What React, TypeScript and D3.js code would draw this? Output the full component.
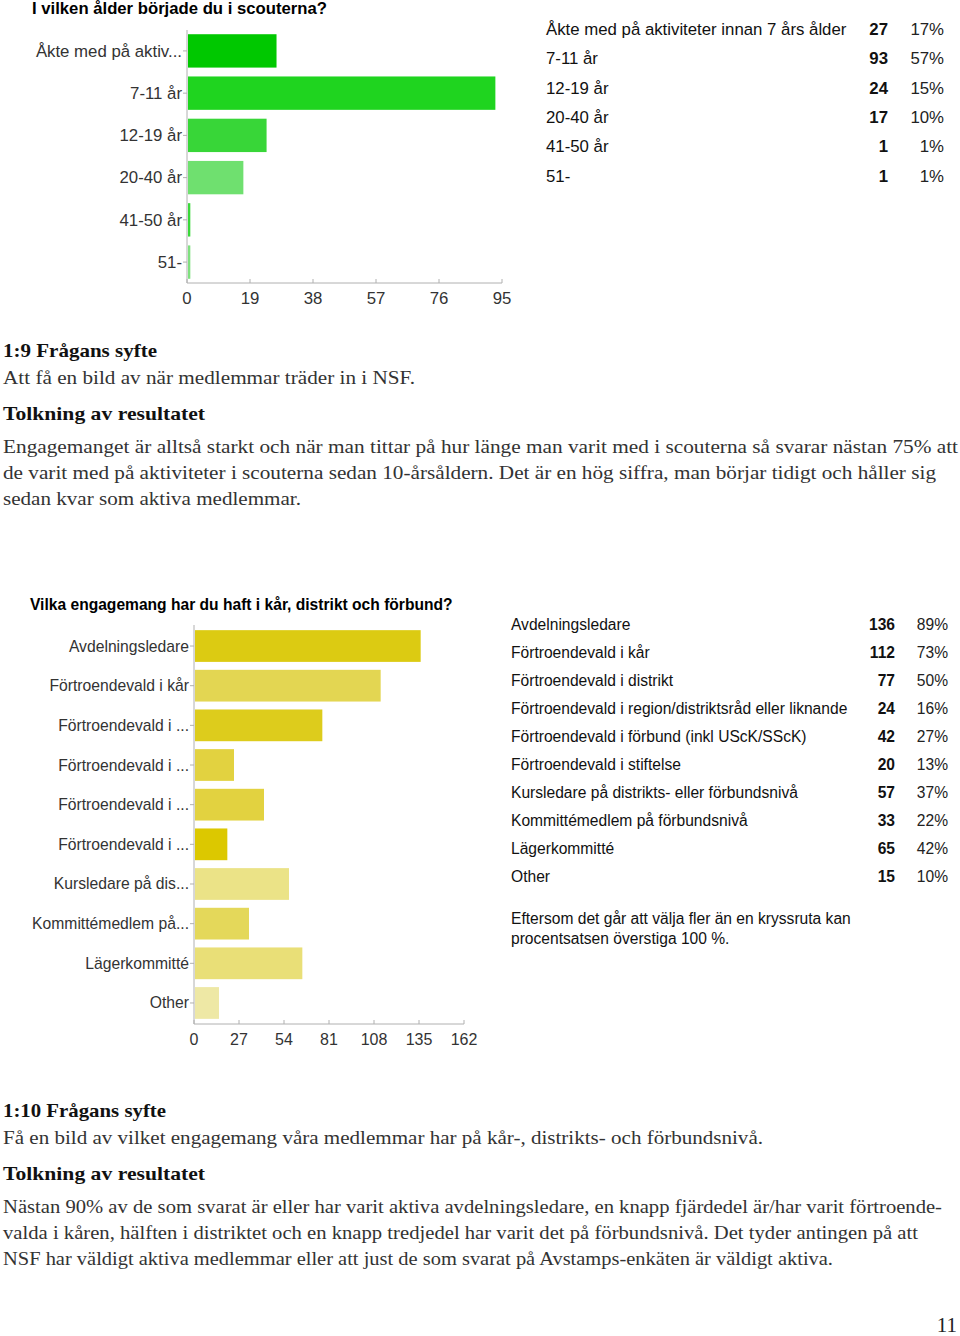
import React from "react";
import * as d3 from "d3";

// ---------- Data: chart 1 ----------
const ageTitle = "I vilken ålder började du i scouterna?";
const ageCategories = [
  "Åkte med på aktiviteter innan 7 års ålder",
  "7-11 år",
  "12-19 år",
  "20-40 år",
  "41-50 år",
  "51-",
];
const ageAxisLabels = ["Åkte med på aktiv...", "7-11 år", "12-19 år", "20-40 år", "41-50 år", "51-"];
const ageCounts = [27, 93, 24, 17, 1, 1];
const agePercents = ["17%", "57%", "15%", "10%", "1%", "1%"];
const ageTicks = [0, 19, 38, 57, 76, 95];
const ageColors = ["#00c800", "#1fd41f", "#38d638", "#6fe06f", "#3ad83a", "#7fe07f"];

// ---------- Data: chart 2 ----------
const engTitle = "Vilka engagemang har du haft i kår, distrikt och förbund?";
const engCategories = [
  "Avdelningsledare",
  "Förtroendevald i kår",
  "Förtroendevald i distrikt",
  "Förtroendevald i region/distriktsråd eller liknande",
  "Förtroendevald i förbund (inkl UScK/SScK)",
  "Förtroendevald i stiftelse",
  "Kursledare på distrikts- eller förbundsnivå",
  "Kommittémedlem på förbundsnivå",
  "Lägerkommitté",
  "Other",
];
const engAxisLabels = [
  "Avdelningsledare",
  "Förtroendevald i kår",
  "Förtroendevald i ...",
  "Förtroendevald i ...",
  "Förtroendevald i ...",
  "Förtroendevald i ...",
  "Kursledare på dis...",
  "Kommittémedlem på...",
  "Lägerkommitté",
  "Other",
];
const engCounts = [136, 112, 77, 24, 42, 20, 57, 33, 65, 15];
const engPercents = ["89%", "73%", "50%", "16%", "27%", "13%", "37%", "22%", "42%", "10%"];
const engTicks = [0, 27, 54, 81, 108, 135, 162];
const engColors = [
  "#dccb12", "#e3d652", "#ddcc1c", "#e2d240", "#e2d240",
  "#dcc800", "#ebe387", "#e4d85a", "#e9df77", "#eee8a5",
];
const engNote = [
  "Eftersom det går att välja fler än en kryssruta kan",
  "procentsatsen överstiga 100 %.",
];

// ---------- Text blocks ----------
const sec1Heading = "1:9 Frågans syfte";
const sec1Purpose = "Att få en bild av när medlemmar träder in i NSF.";
const sec1Heading2 = "Tolkning av resultatet";
const sec1Para = [
  "Engagemanget är alltså starkt och när man tittar på hur länge man varit med i scouterna så svarar nästan 75% att",
  "de varit med på aktiviteter i scouterna sedan 10-årsåldern. Det är en hög siffra, man börjar tidigt och håller sig",
  "sedan kvar som aktiva medlemmar.",
];
const sec2Heading = "1:10 Frågans syfte";
const sec2Purpose = "Få en bild av vilket engagemang våra medlemmar har på kår-, distrikts- och förbundsnivå.";
const sec2Heading2 = "Tolkning av resultatet";
const sec2Para = [
  "Nästan 90% av de som svarat är eller har varit aktiva avdelningsledare, en knapp fjärdedel är/har varit förtroende-",
  "valda i kåren, hälften i distriktet och en knapp tredjedel har varit det på förbundsnivå. Det tyder antingen på att",
  "NSF har väldigt aktiva medlemmar eller att just de som svarat på Avstamps-enkäten är väldigt aktiva.",
];
const pageNumber = "11";

// Layout: rendered widths of the serif text lines (the page uses a wider Garamond face)
const sec1Widths = { heading: 154, purpose: 412, heading2: 202, para: [955, 933, 298] };
const sec2Widths = { heading: 163, purpose: 760, heading2: 202, para: [939, 915, 830] };

const SANS = "'Liberation Sans', Arial, Helvetica, sans-serif";
const SERIF = "'Liberation Serif', 'Times New Roman', serif";

type BarChartProps = {
  labels: string[];
  values: number[];
  colors: string[];
  ticks: number[];
  x0: number;
  x1: number;
  y0: number;
  y1: number;
  paddingInner: number;
  paddingOuter: number;
  labelSize: number;
  tickSize: number;
};

function BarChart(p: BarChartProps) {
  const x = d3.scaleLinear().domain([0, p.ticks[p.ticks.length - 1]]).range([p.x0, p.x1]);
  const y = d3
    .scaleBand<number>()
    .domain(p.labels.map((_, i) => i))
    .range([p.y0, p.y1])
    .paddingInner(p.paddingInner)
    .paddingOuter(p.paddingOuter);
  return (
    <g>
      {p.values.map((v, i) => (
        <rect
          key={i}
          x={x(0) + 1}
          y={y(i)!}
          width={Math.max(0, x(v) - x(0) - 1)}
          height={y.bandwidth()}
          fill={p.colors[i]}
        />
      ))}
      <line x1={x(0)} x2={x(0)} y1={p.y0} y2={p.y1} stroke="#b0b0b0" strokeWidth={1} />
      {p.labels.map((l, i) => {
        const cy = y(i)! + y.bandwidth() / 2;
        return (
          <g key={i}>
            <line x1={x(0) - 4} x2={x(0)} y1={cy} y2={cy} stroke="#b0b0b0" />
            <text
              x={x(0) - 5}
              y={cy}
              dy="0.35em"
              textAnchor="end"
              fontFamily={SANS}
              fontSize={p.labelSize}
              fill="#333"
            >
              {l}
            </text>
          </g>
        );
      })}
      <line x1={x(0)} x2={x(p.ticks[p.ticks.length - 1])} y1={p.y1} y2={p.y1} stroke="#b0b0b0" />
      {p.ticks.map((t) => (
        <g key={t}>
          <line x1={x(t)} x2={x(t)} y1={p.y1 - 4} y2={p.y1} stroke="#b0b0b0" />
          <text
            x={x(t)}
            y={p.y1 + 15}
            dy="0.35em"
            textAnchor="middle"
            fontFamily={SANS}
            fontSize={p.tickSize}
            fill="#333"
          >
            {t}
          </text>
        </g>
      ))}
    </g>
  );
}

type TableProps = {
  names: string[];
  counts: number[];
  percents: string[];
  xLabel: number;
  xCount: number;
  xPct: number;
  yFirst: number;
  step: number;
  size: number;
};

function Table(p: TableProps) {
  return (
    <g fontFamily={SANS} fontSize={p.size} fill="#111">
      {p.names.map((n, i) => {
        const cy = p.yFirst + i * p.step;
        return (
          <g key={i}>
            <text x={p.xLabel} y={cy} dy="0.35em">
              {n}
            </text>
            <text x={p.xCount} y={cy} dy="0.35em" textAnchor="end" fontWeight="bold">
              {p.counts[i]}
            </text>
            <text x={p.xPct} y={cy} dy="0.35em" textAnchor="end" fill="#222">
              {p.percents[i]}
            </text>
          </g>
        );
      })}
    </g>
  );
}

type SectionProps = {
  heading: string;
  purpose: string;
  heading2: string;
  para: string[];
  yHeading: number;
  widths: { heading: number; purpose: number; heading2: number; para: number[] };
};

function Section(p: SectionProps) {
  const fs = 19;
  const la = "spacingAndGlyphs";
  return (
    <g fontFamily={SERIF} fontSize={fs} fill="#1a1a1a">
      <text x={3} y={p.yHeading} fontWeight="bold" fill="#111" textLength={p.widths.heading} lengthAdjust={la}>
        {p.heading}
      </text>
      <text x={3} y={p.yHeading + 27} fill="#333" textLength={p.widths.purpose} lengthAdjust={la}>
        {p.purpose}
      </text>
      <text x={3} y={p.yHeading + 63} fontWeight="bold" fill="#111" textLength={p.widths.heading2} lengthAdjust={la}>
        {p.heading2}
      </text>
      {p.para.map((l, i) => (
        <text
          key={i}
          x={3}
          y={p.yHeading + 96 + i * 26}
          fill="#333"
          textLength={p.widths.para[i]}
          lengthAdjust={la}
        >
          {l}
        </text>
      ))}
    </g>
  );
}

export default function App() {
  return (
    <svg
      width={960}
      height={1336}
      viewBox="0 0 960 1336"
      style={{ position: "absolute", left: 0, top: 0, background: "#fff" }}
    >
      <rect width={960} height={1336} fill="#fff" />
      {/* Chart 1 */}
      <text x={32} y={8} dy="0.35em" fontFamily={SANS} fontSize={16.7} fontWeight="bold" fill="#000">
        {ageTitle}
      </text>
      <BarChart
        labels={ageAxisLabels}
        values={ageCounts}
        colors={ageColors}
        ticks={ageTicks}
        x0={187}
        x1={502}
        y0={30}
        y1={283}
        paddingInner={0.21}
        paddingOuter={0.1}
        labelSize={16.8}
        tickSize={16.8}
      />
      <Table
        names={ageCategories}
        counts={ageCounts}
        percents={agePercents}
        xLabel={546}
        xCount={888}
        xPct={944}
        yFirst={29}
        step={29.4}
        size={16.8}
      />
      <Section
        heading={sec1Heading}
        purpose={sec1Purpose}
        heading2={sec1Heading2}
        para={sec1Para}
        yHeading={357}
        widths={sec1Widths}
      />

      {/* Chart 2 */}
      <text x={30} y={605} dy="0.35em" fontFamily={SANS} fontSize={15.6} fontWeight="bold" fill="#000">
        {engTitle}
      </text>
      <BarChart
        labels={engAxisLabels}
        values={engCounts}
        colors={engColors}
        ticks={engTicks}
        x0={194}
        x1={464}
        y0={625}
        y1={1024}
        paddingInner={0.2}
        paddingOuter={0.13}
        labelSize={15.7}
        tickSize={16}
      />
      <Table
        names={engCategories}
        counts={engCounts}
        percents={engPercents}
        xLabel={511}
        xCount={895}
        xPct={948}
        yFirst={625}
        step={27.9}
        size={15.6}
      />
      <g fontFamily={SANS} fontSize={15.6} fill="#111">
        {engNote.map((l, i) => (
          <text key={i} x={511} y={919 + i * 20} dy="0.35em">
            {l}
          </text>
        ))}
      </g>
      <Section
        heading={sec2Heading}
        purpose={sec2Purpose}
        heading2={sec2Heading2}
        para={sec2Para}
        yHeading={1117}
        widths={sec2Widths}
      />
      <text x={957} y={1332} textAnchor="end" fontFamily={SERIF} fontSize={21} fill="#222">
        {pageNumber}
      </text>
    </svg>
  );
}
